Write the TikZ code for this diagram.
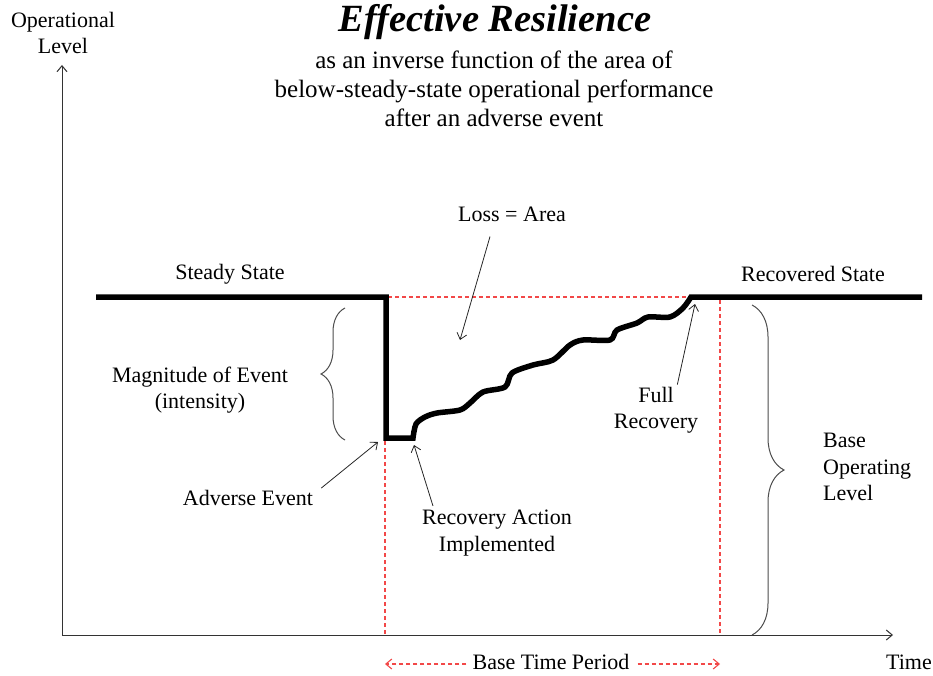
\documentclass[tikz,border=0pt]{standalone}
\usepackage{fontspec}
\setmainfont{Liberation Serif}
\usetikzlibrary{arrows.meta,decorations.pathreplacing}
\definecolor{guidered}{RGB}{242,72,72}

\begin{document}
\begin{tikzpicture}[x=1pt,y=-1pt,>={Straight Barb[length=6pt,width=10pt]},
    lbl/.style={font=\fontsize{22}{26.5}\selectfont,align=center,inner sep=0pt},
    level/.style={line width=5.5pt},
    guide/.style={guidered,dash pattern=on 4pt off 3pt,line width=1.1pt},
    brc/.style={decorate,decoration={brace,amplitude=#1},line width=1pt,black!70},
    ptr/.style={->,line width=0.8pt,black!85}]
    \useasboundingbox (0,0) rectangle (933,676);

    % axes
    \coordinate (origin) at (62,635);
    \coordinate (ytop)   at (62,65);
    \coordinate (xend)   at (893,635);
    \draw[->,line width=1pt,black!80] (origin) -- (ytop);
    \draw[->,line width=1pt,black!80] (origin) -- (xend);
    \node[lbl] (ylab) at (63,33) {Operational\\Level};
    \node[lbl] (xlab) at (909,662) {Time};

    % title
    \node[inner sep=0pt,font=\fontsize{38.5}{42}\selectfont\bfseries\itshape] (title) at (495,22) {Effective Resilience};
    \node[lbl,font=\fontsize{25}{29}\selectfont] (sub) at (494,89)
        {as an inverse function of the area of\\below-steady-state operational performance\\after an adverse event};

    % guides
    \draw[guide] (388,297) -- (690,297);
    \draw[guide] (385,441) -- (385,635);
    \draw[guide] (720,300) -- (720,635);
    \node[lbl] (period) at (551,662) {Base Time Period};
    \coordinate (pleft)  at (385,664);
    \coordinate (pright) at (720,664);
    \draw[guide,->] (period.west) ++(-6,2) -- (pleft);
    \draw[guide,->] (period.east) ++(8,2) -- (pright);

    % operational level
    \draw[level] (96,297) -- (386,297) -- (386,438) -- (413,438)
        -- plot[smooth,tension=0.5] coordinates {(413,438) (416,424) (425,417) (437,413) (460,410) (470,403)
            (483,392) (505,387) (512,373) (533,365) (553,360) (570,345) (583,340)
            (610,340) (617,330) (637,323) (648,317) (670,317) (683,308) (691,297)}
        -- (922,297);

    % labels
    \node[lbl] (steady) at (230,274) {Steady State};
    \node[lbl] (recov)  at (813,274) {Recovered State};
    \node[lbl] (loss)   at (512,214) {Loss = Area};
    \node[lbl] (mag)    at (200,390) {Magnitude of Event\\(intensity)};
    \node[lbl] (adv)    at (248,498) {Adverse Event};
    \node[lbl] (act)    at (497,533) {Recovery Action\\Implemented};
    \node[lbl] (full)   at (656,410) {Full\\Recovery};
    \node[lbl,align=left,anchor=west] (base) at (823,467) {Base\\Operating\\Level};

    % pointers
    \coordinate (lossend) at (460,340);
    \coordinate (advend)  at (378,442);
    \coordinate (actend)  at (414,445);
    \coordinate (fullend) at (695,304);
    \draw[ptr] (loss.south) ++(-22,15) -- (lossend);
    \draw[ptr] (adv.north east) ++(8,-2) -- (advend);
    \draw[ptr] (act.north west) ++(11,-4) -- (actend);
    \draw[ptr] (full.north east) ++(-21,-2) -- (fullend);

    % braces
    \draw[brc=24pt] (345,440) -- (345,308);
    \draw[brc=32pt] (752,305) -- (752,635);
\end{tikzpicture}
\end{document}
